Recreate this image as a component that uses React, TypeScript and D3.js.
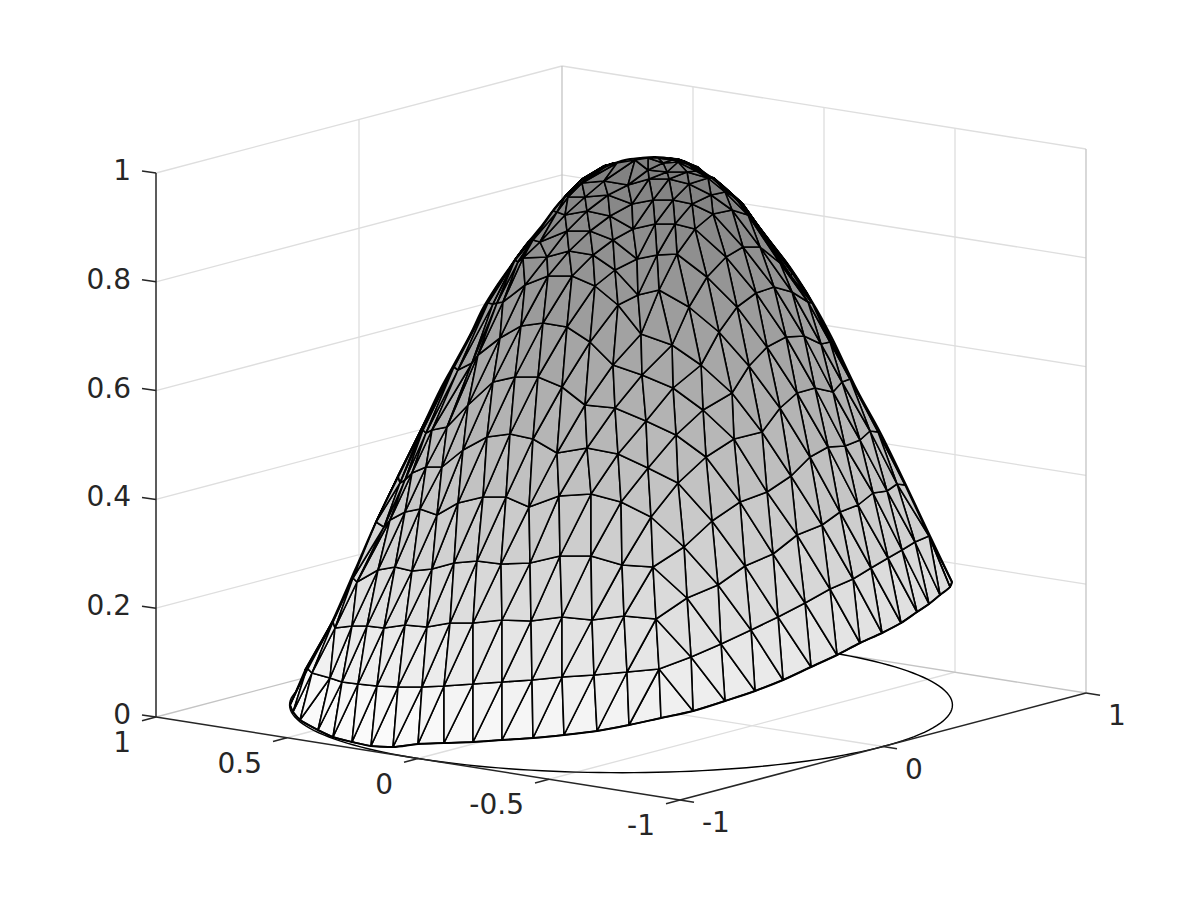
import React from 'react';
import * as d3 from 'd3';

// Tick values of the three axes
const uTicks = [-1, 0, 1];
const vTicks = [-1, -0.5, 0, 0.5, 1];
const zTicks = [0, 0.2, 0.4, 0.6, 0.8, 1];
const uLabels = ['-1', '0', '1'];
const vLabels = ['-1', '-0.5', '0', '0.5', '1'];
const zLabels = ['0', '0.2', '0.4', '0.6', '0.8', '1'];

// Mesh rings, rim first, apex last.
// Each vertex is [across, up] in projected view units (per-mille of the view range).
const ring00 = [[-993,0],[-984,-14],[-963,-30],[-909,-50],[-864,-64],[-807,-74],[-750,-82],[-684,-84],[-609,-78],[-531,-76],[-444,-74],[-357,-70],[-264,-66],[-171,-60],[-72,-52],[24,-40],[120,-26],[216,-12],[312,8],[402,28],[486,50],[570,76],[648,100],[717,124],[783,144],[840,164],[888,186],[924,202],[957,220],[987,236],[993,246]];
const ring01 = [[-948,70],[-942,74],[-927,64],[-873,54],[-837,46],[-789,42],[-732,38],[-669,36],[-597,36],[-531,38],[-444,42],[-357,46],[-267,50],[-177,56],[-81,60],[18,66],[114,72],[210,96],[300,122],[390,150],[471,176],[552,204],[627,232],[696,252],[750,274],[801,294],[843,310],[882,326],[924,338],[921,342],[918,346]];
const ring02 = [[-858,176],[-861,172],[-864,166],[-858,154],[-807,158],[-762,158],[-711,154],[-648,160],[-582,156],[-513,164],[-444,164],[-357,170],[-270,168],[-177,176],[-87,170],[9,178],[105,172],[198,214],[291,240],[372,278],[456,302],[528,340],[603,360],[657,386],[711,400],[756,424],[798,428],[828,442],[852,440],[849,444],[846,448]];
const ring03 = [[-795,266],[-798,262],[-801,258],[-804,254],[-792,246],[-729,270],[-678,276],[-627,268],[-567,272],[-501,284],[-432,288],[-360,282],[-273,284],[-183,298],[-90,298],[3,280],[96,276],[189,316],[273,368],[357,406],[438,426],[510,458],[567,496],[621,516],[672,518],[717,530],[747,548],[771,546],[768,550],[765,554],[762,558]];
const ring04 = [[-726,378],[-729,374],[-732,370],[-735,366],[-711,356],[-693,370],[-648,386],[-603,392],[-552,380],[-489,404],[-414,416],[-345,416],[-276,396],[-186,418],[-90,422],[0,406],[90,376],[171,444],[255,496],[339,532],[423,546],[477,594],[528,624],[582,634],[636,626],[663,646],[687,652],[684,658],[681,662],[678,666],[675,670]];
const ring05 = [[-660,470],[-663,466],[-666,462],[-669,458],[-663,444],[-648,450],[-627,464],[-585,476],[-537,476],[-474,510],[-402,536],[-333,542],[-264,532],[-192,504],[-102,514],[-9,502],[81,474],[165,540],[246,590],[333,624],[384,678],[438,716],[495,736],[549,738],[600,722],[627,726],[627,732],[624,738],[621,742],[618,746],[615,750]];
const ring06 = [[-585,570],[-588,566],[-591,562],[-594,558],[-597,554],[-594,550],[-585,544],[-567,550],[-522,556],[-459,600],[-384,646],[-318,656],[-249,656],[-177,636],[-108,600],[-18,594],[75,568],[156,634],[240,680],[294,746],[348,796],[405,824],[459,836],[513,826],[561,806],[573,804],[570,808],[567,812],[564,816],[561,820],[558,824]];
const ring07 = [[-483,700],[-486,696],[-489,692],[-492,688],[-495,684],[-498,680],[-501,676],[-489,670],[-447,684],[-429,700],[-363,734],[-300,758],[-234,764],[-162,756],[-93,726],[-24,680],[63,660],[153,720],[204,796],[258,856],[315,896],[366,916],[417,916],[477,884],[510,858],[513,864],[510,868],[507,872],[504,876],[501,880],[498,884]];
const ring08 = [[-378,832],[-381,828],[-384,824],[-387,820],[-390,816],[-393,812],[-396,808],[-399,804],[-384,802],[-372,804],[-354,806],[-288,840],[-219,858],[-147,858],[-78,838],[-9,800],[60,742],[114,830],[168,902],[222,952],[276,982],[333,990],[381,980],[411,954],[417,952],[414,956],[411,958],[408,962],[405,964],[402,966],[399,970]];
const ring09 = [[-279,926],[-282,922],[-288,918],[-291,914],[-297,910],[-300,906],[-306,902],[-309,898],[-315,894],[-318,890],[-309,886],[-294,894],[-222,896],[-156,908],[-84,900],[-18,870],[51,820],[108,900],[162,962],[213,1002],[270,1020],[312,1026],[339,1018],[366,1000],[378,990],[372,994],[369,998],[366,1002],[363,1004],[360,1006],[357,1008]];
const ring10 = [[-231,954],[-234,952],[-237,950],[-240,948],[-243,946],[-246,944],[-249,942],[-252,940],[-255,938],[-258,936],[-261,934],[-264,930],[-243,926],[-162,948],[-93,948],[-24,930],[48,892],[102,962],[156,1010],[204,1042],[261,1054],[279,1054],[300,1042],[327,1026],[333,1018],[330,1022],[324,1026],[318,1030],[312,1034],[306,1038],[300,1042]];
const ring11 = [[-171,1010],[-174,1008],[-177,1006],[-180,1004],[-183,1002],[-186,1000],[-189,998],[-192,996],[-195,994],[-198,992],[-201,990],[-204,988],[-192,986],[-168,980],[-102,988],[-33,978],[36,952],[96,1010],[144,1052],[198,1066],[225,1068],[249,1060],[270,1050],[285,1042],[294,1036],[288,1040],[282,1044],[276,1048],[270,1052],[264,1056],[258,1060]];
const ring12 = [[-129,1044],[-132,1042],[-135,1040],[-138,1038],[-141,1036],[-144,1034],[-147,1032],[-150,1030],[-153,1028],[-156,1026],[-159,1024],[-162,1022],[-165,1020],[-159,1016],[-108,1016],[-39,1020],[33,1002],[84,1052],[138,1066],[171,1086],[198,1084],[222,1074],[243,1064],[258,1058],[267,1052],[261,1056],[255,1060],[249,1064],[243,1068],[237,1072],[231,1076]];
const ring13 = [[-51,1074],[-57,1072],[-63,1070],[-69,1068],[-75,1066],[-81,1064],[-87,1062],[-93,1060],[-99,1058],[-105,1056],[-111,1054],[-117,1052],[-120,1050],[-123,1048],[-117,1044],[-51,1048],[21,1040],[81,1070],[126,1084],[153,1090],[177,1090],[201,1084],[219,1076],[231,1070],[237,1066],[231,1070],[225,1074],[219,1078],[213,1080],[207,1082],[201,1084]];
const ring14 = [[12,1088],[6,1088],[0,1086],[-6,1086],[-12,1084],[-18,1084],[-24,1084],[-27,1082],[-33,1082],[-39,1080],[-45,1080],[-51,1078],[-51,1076],[-51,1078],[-39,1080],[-12,1084],[42,1090],[81,1094],[111,1094],[129,1094],[147,1094],[171,1092],[189,1088],[201,1084],[207,1080],[201,1082],[195,1084],[189,1086],[183,1088],[177,1090],[171,1092]];
const rings = [ring00, ring01, ring02, ring03, ring04, ring05, ring06, ring07, ring08, ring09, ring10, ring11, ring12, ring13, ring14];

// Outer contour of the surface in the same view units, left foot over the top to the right foot
const outlineAcross = [-993,-972,-945,-894,-864,-798,-732,-663,-603,-543,-507,-453,-414,-375,-333,-288,-243,-183,-123,-78,-33,12,57,102,153,207,261,306,357,432,513,588,633,708,777,852,927,993];
const outlineUp = [0,30,66,130,170,270,370,464,546,630,674,740,794,836,876,918,954,1006,1042,1066,1080,1090,1094,1096,1092,1080,1060,1034,1004,940,870,790,734,630,546,444,338,246];

// Column where the diagonal direction of the triangles flips
const flipColumn = 16;

// Projection of the axes box
const cx = 621, cy = 705;
const uToX = d3.scaleLinear().domain([-1, 1]).range([-203, 203]);
const uToY = d3.scaleLinear().domain([-1, 1]).range([53.5, -53.5]);
const vToX = d3.scaleLinear().domain([-1, 1]).range([262, -262]);
const vToY = d3.scaleLinear().domain([-1, 1]).range([41.5, -41.5]);
const zToY = d3.scaleLinear().domain([0, 1]).range([0, -544]);
const P = (u: number, v: number, z: number): [number, number] => [
  cx + uToX(u) + vToX(v),
  cy + uToY(u) + vToY(v) + zToY(z),
];
// Projected view units for the mesh
const acrossToX = d3.scaleLinear().domain([-1000, 1000]).range([cx - 1000 / 3, cx + 1000 / 3]);
const upToY = d3.scaleLinear().domain([0, 1000]).range([cy, cy - 500]);
// Height to gray
const shade = d3.scaleLinear<number>().domain([0, 1]).range([1.01, 0.5]);

const seg = (a: [number, number], b: [number, number]) =>
  `M${a[0].toFixed(2)},${a[1].toFixed(2)}L${b[0].toFixed(2)},${b[1].toFixed(2)}`;

const trueHeight = (r: number, c: number) => {
  const [, e] = rings[r][c];
  const rim = rings[0][c][0] / 1000;
  const rho = 1 - r / (rings.length - 1);
  const front = 69 * rho * Math.sqrt(Math.max(0, 1 - rim * rim));
  return (e / 2 + front) / 545;
};

function buildFacets() {
  const out: { d: string; fill: string; key: string; order: number }[] = [];
  const nCols = ring00.length;
  const pt = (r: number, c: number): [number, number] => [acrossToX(rings[r][c][0]), upToY(rings[r][c][1])];
  for (let r = 0; r < rings.length - 1; r++) {
    for (let c = 0; c < nCols - 1; c++) {
      const a = { r, c }, b = { r, c: c + 1 }, t1 = { r: r + 1, c }, t2 = { r: r + 1, c: c + 1 };
      const tris = c < flipColumn ? [[a, b, t2], [a, t2, t1]] : [[a, b, t1], [b, t2, t1]];
      tris.forEach((tri, i) => {
        const z = d3.mean(tri, (q) => trueHeight(q.r, q.c)) as number;
        const g = Math.round(255 * Math.min(0.98, shade(z)));
        const pts = tri.map((q) => pt(q.r, q.c));
        out.push({
          key: `${r}-${c}-${i}`,
          fill: `rgb(${g},${g},${g})`,
          d: `M${pts.map((p) => `${p[0].toFixed(2)},${p[1].toFixed(2)}`).join('L')}Z`,
          order: Math.abs(c - flipColumn),
        });
      });
    }
  }
  return d3.sort(out, (x, y) => y.order - x.order);
}

const FONT = '"DejaVu Sans", sans-serif';
const TEXT = '#262626';
const GRID = '#dedede';
const BACK = '#c4c4c4';

export default function App() {
  const facets = buildFacets();
  const floorU = [0];
  const wallV = [-0.5, 0, 0.5];
  const circlePath = d3.line<number>()
    .x((t) => P(Math.cos(t), Math.sin(t), 0)[0])
    .y((t) => P(Math.cos(t), Math.sin(t), 0)[1])(d3.range(0, 2 * Math.PI + 0.01, Math.PI / 90));
  const outline = d3.line<number>()
    .x((_, i) => acrossToX(outlineAcross[i]))
    .y((_, i) => upToY(outlineUp[i]))
    .curve(d3.curveCatmullRom)(outlineAcross);
  const rimPath = d3.line<number[]>()
    .x((d) => acrossToX(d[0]))
    .y((d) => upToY(d[1]))
    .curve(d3.curveCatmullRom)(ring00);

  return (
    <svg width={1200} height={900} viewBox="0 0 1200 900"
      style={{ position: 'absolute', left: 0, top: 0, background: '#fff' }}>
      <defs>
        <linearGradient id="under" gradientUnits="userSpaceOnUse" x1="0" y1={upToY(1096)} x2="0" y2={upToY(-84)}>
          <stop offset="0" stopColor="#808080" />
          <stop offset="1" stopColor="#f6f6f6" />
        </linearGradient>
      </defs>
      <g fill="none" stroke={GRID} strokeWidth={1.3}>
        {zTicks.slice(1, -1).map((z) => (
          <path key={`gz${z}`} d={`M${P(-1, 1, z)}L${P(1, 1, z)}L${P(1, -1, z)}`} />
        ))}
        {floorU.map((u) => (
          <path key={`gu${u}`} d={`M${P(u, -1, 0)}L${P(u, 1, 0)}L${P(u, 1, 1)}`} />
        ))}
        {wallV.map((v) => (
          <path key={`gv${v}`} d={`M${P(-1, v, 0)}L${P(1, v, 0)}L${P(1, v, 1)}`} />
        ))}
        <path d={seg(P(-1, 1, 1), P(1, 1, 1))} />
        <path d={seg(P(1, 1, 1), P(1, -1, 1))} />
      </g>
      <g fill="none" stroke={BACK} strokeWidth={1.3}>
        <path d={seg(P(-1, 1, 0), P(1, 1, 0))} />
        <path d={seg(P(1, 1, 0), P(1, -1, 0))} />
        <path d={seg(P(1, 1, 0), P(1, 1, 1))} />
        <path d={seg(P(1, -1, 0), P(1, -1, 1))} />
      </g>

      <path d={circlePath as string} fill="none" stroke="#000" strokeWidth={1.4} />

      <path d={`${outline}L${acrossToX(0)},${upToY(100)}Z`} fill="url(#under)" stroke="none" />
      <path d={`${rimPath}L${acrossToX(0)},${upToY(300)}Z`} fill="#f6f6f6" stroke="none" />

      <g stroke="#000" strokeWidth={1.6} strokeLinejoin="round">
        {facets.map((f) => <path key={f.key} d={f.d} fill={f.fill} />)}
      </g>
      <path d={outline as string} fill="none" stroke="#000" strokeWidth={2} />
      <path d={rimPath as string} fill="none" stroke="#000" strokeWidth={2} />

      <g fill="none" stroke={TEXT} strokeWidth={1.5}>
        <path d={seg(P(-1, 1, 0), P(-1, 1, 1))} />
        <path d={seg(P(-1, 1, 0), P(-1, -1, 0))} />
        <path d={seg(P(-1, -1, 0), P(1, -1, 0))} />
        {zTicks.map((z) => {
          const [x, y] = P(-1, 1, z);
          return <path key={`tz${z}`} d={`M${x},${y}L${x - 14},${y - 2}`} />;
        })}
        {vTicks.map((v) => {
          const [x, y] = P(-1, v, 0);
          return <path key={`tv${v}`} d={`M${x},${y}L${x - 14},${y + 3.7}`} />;
        })}
        {uTicks.map((u) => {
          const [x, y] = P(u, -1, 0);
          return <path key={`tu${u}`} d={`M${x},${y}L${x + 14},${y + 2.2}`} />;
        })}
      </g>

      <g fontFamily={FONT} fontSize={28} fill={TEXT}>
        {zTicks.map((z, i) => {
          const [x, y] = P(-1, 1, z);
          return <text key={`lz${z}`} x={x - 25} y={y + 7} textAnchor="end">{zLabels[i]}</text>;
        })}
        {vTicks.map((v, i) => {
          const [x, y] = P(-1, v, 0);
          return <text key={`lv${v}`} x={x - 25} y={y + 35} textAnchor="end">{vLabels[i]}</text>;
        })}
        {uTicks.map((u, i) => {
          const [x, y] = P(u, -1, 0);
          return <text key={`lu${u}`} x={x + 22} y={y + 32} textAnchor="start">{uLabels[i]}</text>;
        })}
      </g>
    </svg>
  );
}
